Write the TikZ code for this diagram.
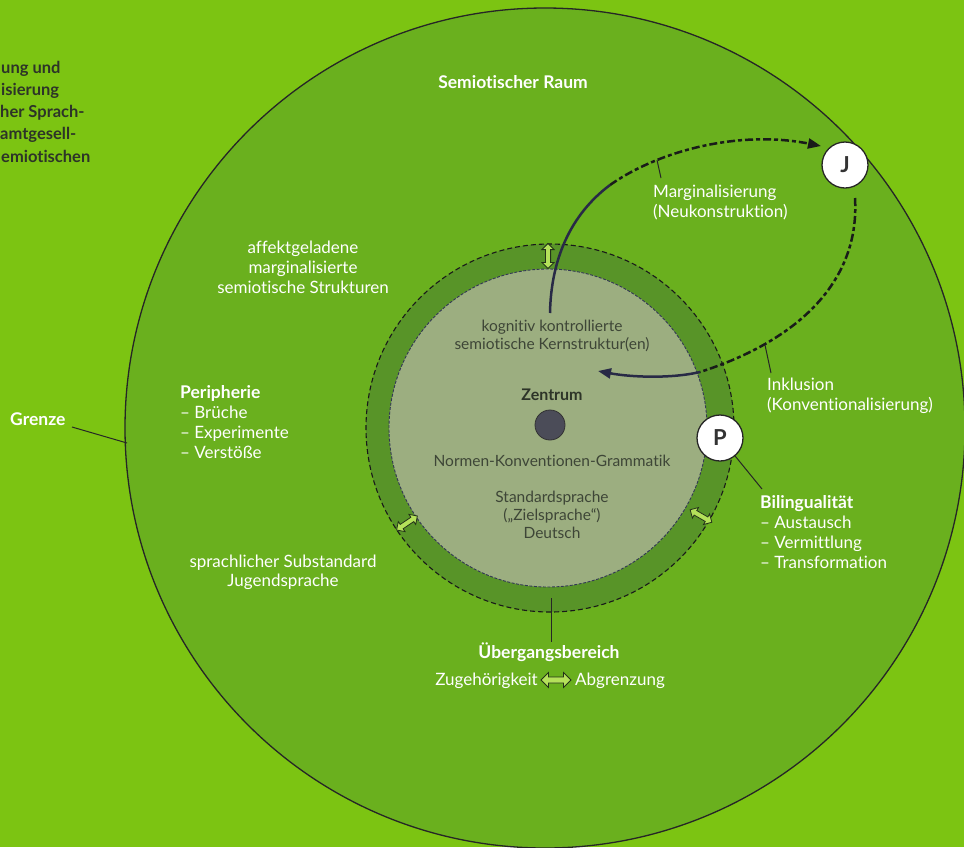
\documentclass[tikz,border=0pt]{standalone}
\usepackage{fontspec}
\setmainfont{Lato}[Ligatures=NoCommon]
\usetikzlibrary{arrows.meta,shapes.arrows}

\definecolor{bggreen}{RGB}{124,196,18}
\definecolor{spacegreen}{RGB}{106,176,30}
\definecolor{ringgreen}{RGB}{88,148,40}
\definecolor{coregray}{RGB}{156,174,128}
\definecolor{coreedge}{RGB}{50,55,85}
\definecolor{coretext}{RGB}{62,70,55}
\definecolor{darktext}{RGB}{45,52,40}
\definecolor{curvenavy}{RGB}{40,42,70}
\definecolor{curvedark}{RGB}{25,28,25}
\definecolor{arrowfill}{RGB}{180,225,90}
\definecolor{arrowedge}{RGB}{35,50,25}
\definecolor{dotgray}{RGB}{75,76,88}

\begin{document}
\begin{tikzpicture}[x=1pt,y=-1pt,
  wtext/.style={text=white,font=\fontsize{17}{20}\selectfont,inner sep=0pt},
  wbold/.style={text=white,font=\bfseries\fontsize{17.5}{20}\selectfont,inner sep=0pt},
  ctext/.style={text=coretext,font=\fontsize{15.5}{18}\selectfont,inner sep=0pt},
  dtext/.style={text=darktext,font=\bfseries\fontsize{16.5}{19}\selectfont,inner sep=0pt},
  dashline/.style={line width=2.5pt,draw=curvedark,dash pattern=on 8pt off 3pt on 4pt off 3pt},
  solidline/.style={line width=2.5pt,draw=curvenavy},
  ringarrow/.style={double arrow,draw=arrowedge,fill=arrowfill,line width=0.8pt,
    minimum height=25pt,inner sep=2.2pt,double arrow head extend=3.5pt},
  marker/.style={circle,draw=black!85,line width=1.3pt,fill=white,minimum size=46pt,
    inner sep=0pt,font=\bfseries\fontsize{22}{22}\selectfont,text=black!80},
  tick/.style={line width=1pt,draw=black!85},
  tipshape/.style={-{Triangle[length=13pt,width=10pt]}}
]
\clip (0,0) rectangle (964,847);
\fill[bggreen] (0,0) rectangle (964,847);

% semiotic space
\draw[fill=spacegreen,line width=1.3pt,draw=black!85] (545,428) circle[radius=420];
\coordinate (grenzept) at (127,443);

% transition ring and core
\fill[ringgreen] (550,428) circle[radius=184];
\draw[black!90,line width=1.1pt,dash pattern=on 5pt off 3pt] (550,428) circle[radius=184];
\fill[coregray] (548,428) circle[radius=159];
\draw[coreedge,line width=0.9pt,dash pattern=on 3pt off 1.5pt] (548,428) circle[radius=159];

% centre point
\node[circle,fill=dotgray,draw=black!80,line width=0.8pt,minimum size=30pt,inner sep=0pt] (dot) at (550,425) {};

% marginalisation path
\coordinate (m0) at (550,313);
\coordinate (m1) at (610,185);
\coordinate (m2) at (821,146);
\draw[solidline] (m0) .. controls (551,260) and (570,215) .. (m1);
\draw[dashline,tipshape] (m1) .. controls (660,150) and (740,130) .. (m2);

% inclusion path
\coordinate (i0) at (855,198);
\coordinate (i1) at (700,372);
\coordinate (i2) at (598,371);
\draw[dashline] (i0) .. controls (860,280) and (800,340) .. (i1);
\draw[solidline,tipshape] (i1) .. controls (670,379) and (630,377) .. (i2);

% double arrows across the ring
\node[ringarrow,rotate=90] (da1) at (548,256) {};
\node[ringarrow,rotate=34] (da2) at (407,523) {};
\node[ringarrow,rotate=-30] (da3) at (701,516) {};

% markers
\node[marker] (J) at (845,165) {J};
\node[marker] (P) at (720,438) {P};

% label ticks
\coordinate (mt0) at (657,160); \coordinate (mt1) at (661,178);
\coordinate (it0) at (765,345); \coordinate (it1) at (771,373);
\coordinate (ut0) at (551,598); \coordinate (ut1) at (551,642);
\coordinate (pt1) at (762,489);
\draw[tick] (mt0) -- (mt1);
\draw[tick] (it0) -- (it1);
\draw[tick] (ut0) -- (ut1);
\draw[tick] (P.-50) -- (pt1);

% text running in from the left margin
\node[dtext,anchor=base west] (l1) at (1,73) {ung und};
\node[dtext,anchor=base west] (l2) at (1,95) {isierung};
\node[dtext,anchor=base west] (l3) at (0,117) {her Sprach-};
\node[dtext,anchor=base west] (l4) at (0,139) {amtgesell-};
\node[dtext,anchor=base west] (l5) at (1,162) {emiotischen};

\node[wbold,anchor=base] (raum) at (513,88) {Semiotischer Raum};

\node[wtext,anchor=base] (af1) at (303,253) {affektgeladene};
\node[wtext,anchor=base] (af2) at (303,273) {marginalisierte};
\node[wtext,anchor=base] (af3) at (303,293) {semiotische Strukturen};

\node[wbold,anchor=base west] (peri) at (180,398) {Peripherie};
\node[wtext,anchor=base west] (peri1) at (180,418) {– Brüche};
\node[wtext,anchor=base west] (peri2) at (180,438) {– Experimente};
\node[wtext,anchor=base west] (peri3) at (180,458) {– Verstöße};

\node[wtext,anchor=base] (sub1) at (283,567) {sprachlicher Substandard};
\node[wtext,anchor=base] (sub2) at (283,586) {Jugendsprache};

\node[wbold,anchor=base west] (grenze) at (10,425) {Grenze};
\coordinate (gl0) at (72,427);
\draw[tick] (gl0) -- (grenzept);

\node[ctext,anchor=base] (k1) at (552,331) {kognitiv kontrollierte};
\node[ctext,anchor=base] (k2) at (552,349) {semiotische Kernstruktur(en)};
\node[text=darktext,font=\bfseries\fontsize{16}{18}\selectfont,inner sep=0pt,anchor=base] (zen) at (552,400) {Zentrum};
\node[ctext,anchor=base] (norm) at (552,466) {Normen-Konventionen-Grammatik};
\node[ctext,anchor=base] (st1) at (552,502) {Standardsprache};
\node[ctext,anchor=base] (st2) at (552,520) {(„Zielsprache“)};
\node[ctext,anchor=base] (st3) at (552,538) {Deutsch};

\node[wtext,anchor=base west] (mg1) at (653,197) {Marginalisierung};
\node[wtext,anchor=base west] (mg2) at (653,217) {(Neukonstruktion)};

\node[wtext,anchor=base west] (ik1) at (767,390) {Inklusion};
\node[wtext,anchor=base west] (ik2) at (767,410) {(Konventionalisierung)};

\node[wbold,anchor=base west] (bi) at (760,508) {Bilingualität};
\node[wtext,anchor=base west] (bi1) at (760,528) {– Austausch};
\node[wtext,anchor=base west] (bi2) at (760,548) {– Vermittlung};
\node[wtext,anchor=base west] (bi3) at (760,568) {– Transformation};

\node[wbold,anchor=base] (ueb) at (549,658) {Übergangsbereich};
\node[ringarrow,minimum height=30pt,inner sep=2.6pt,double arrow head extend=4.5pt] (da4) at (556,680) {};
\node[wtext,anchor=base east] (zug) at (538,685) {Zugehörigkeit};
\node[wtext,anchor=base west] (abg) at (575,685) {Abgrenzung};
\end{tikzpicture}
\end{document}
